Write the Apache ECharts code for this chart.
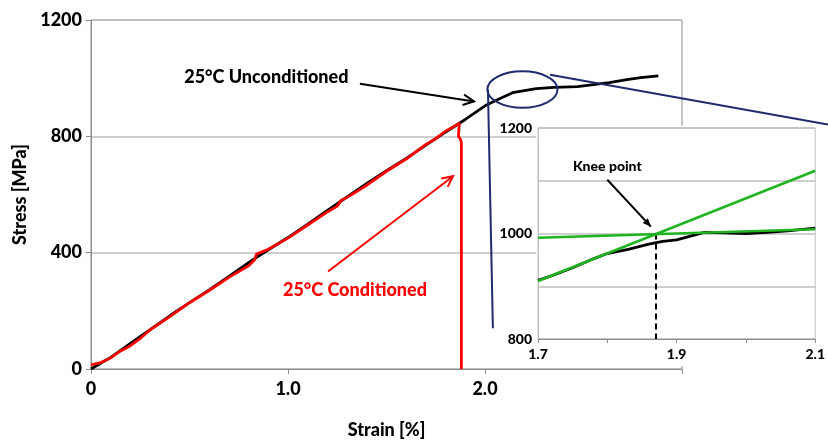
<!DOCTYPE html>
<html>
<head>
<meta charset="utf-8">
<title>Stress vs strain</title>
<script src="https://cdn.jsdelivr.net/npm/echarts@6/dist/echarts.min.js"></script>
<style>
  html, body { margin: 0; padding: 0; background: #fff; }
  #chart { width: 828px; height: 444px; }
</style>
</head>
<body>
<div id="chart"></div>
<script>
// 25°C unconditioned (black)
const strainUncond = [0, 0.1, 0.2, 0.3, 0.4, 0.5, 0.6, 0.7, 0.8, 0.9, 1.0, 1.1, 1.2, 1.3, 1.4, 1.5, 1.6, 1.7, 1.8, 1.9, 2.0, 2.06, 2.14, 2.26, 2.35, 2.47, 2.55, 2.63, 2.72, 2.79, 2.88]
const stressUncond = [0, 40, 88, 135, 183, 228, 272, 318, 366, 410, 452, 498, 545, 592, 638, 682, 724, 770, 815, 858, 905, 925, 950, 964, 968, 971, 978, 985, 995, 1002, 1008]

// 25°C conditioned (red) - fails near 1.88 %
const strainCond = [0, 0.05, 0.1, 0.15, 0.2, 0.25, 0.3, 0.4, 0.5, 0.6, 0.7, 0.8, 0.83, 0.84, 0.9, 1.0, 1.1, 1.2, 1.25, 1.27, 1.3, 1.4, 1.5, 1.6, 1.7, 1.75, 1.8, 1.87, 1.865, 1.875, 1.88, 1.88]
const stressCond = [14, 22, 38, 62, 80, 105, 135, 180, 228, 270, 315, 355, 375, 395, 412, 450, 495, 540, 560, 580, 590, 632, 680, 722, 772, 792, 818, 845, 800, 790, 780, 0]

// inset (zoom on knee)
const strainInset = [1.7, 1.72, 1.75, 1.78, 1.8, 1.83, 1.86, 1.88, 1.9, 1.92, 1.94, 1.97, 2.0, 2.03, 2.06, 2.1]
const stressInset = [911, 920, 935, 952, 962, 970, 980, 985, 988, 995, 1002, 1001, 1000, 1002, 1005, 1010]
// tangent lines
const tangentElastic = [[1.7, 910], [2.1, 1119]]
const tangentPlastic = [[1.7, 992], [2.1, 1008]]
const kneeStrain = 1.87
const kneeStress = 1000

const mainXTicks = ['0', '1.0', '2.0', '']

const zip = (xs, ys) => xs.map((x, i) => [x, ys[i]])

const FONT = 'Lato'
const NAVY = '#1f2b6d'
const GREEN = '#1fb41f'

const chart = echarts.init(document.getElementById('chart'))

const option = {
  animation: false,
  textStyle: { fontFamily: FONT },
  grid: [
    { left: 91, top: 20, width: 591, height: 351, show: true, borderColor: '#8c8c8c', borderWidth: 1 },
    { left: 538, top: 128, width: 285, height: 211, show: true, backgroundColor: '#fff', borderColor: '#c0c0c0', borderWidth: 1, z: 10 }
  ],
  xAxis: [
    {
      gridIndex: 0, type: 'value', min: 0, max: 3, interval: 1,
      name: 'Strain [%]', nameLocation: 'middle', nameGap: 52,
      nameTextStyle: { fontSize: 18, fontWeight: 900, color: '#000', fontFamily: FONT },
      axisLine: { lineStyle: { color: '#8c8c8c' } },
      axisTick: { show: true, length: 5, lineStyle: { color: '#8c8c8c' } },
      axisLabel: { fontSize: 18, fontWeight: 900, color: '#000', margin: 11, formatter: v => mainXTicks[Math.round(v)] },
      splitLine: { show: false }
    },
    {
      gridIndex: 1, type: 'value', min: 1.7, max: 2.1, interval: 0.1, z: 11,
      axisLine: { lineStyle: { color: '#8c8c8c' } },
      axisTick: { show: true, length: 4, lineStyle: { color: '#8c8c8c' } },
      axisLabel: { fontSize: 14, fontWeight: 900, color: '#000', margin: 8,
        formatter: v => (Math.round(v * 10) % 2 === 1 ? v.toFixed(1) : '') },
      splitLine: { show: false }
    }
  ],
  yAxis: [
    {
      gridIndex: 0, type: 'value', min: 0, max: 1200, interval: 400,
      name: 'Stress [MPa]', nameLocation: 'middle', nameGap: 39,
      nameTextStyle: { fontSize: 18, fontWeight: 900, color: '#000', fontFamily: FONT },
      axisLine: { show: true, lineStyle: { color: '#8c8c8c' } },
      axisTick: { show: true, length: 5, lineStyle: { color: '#8c8c8c' } },
      axisLabel: { fontSize: 18, fontWeight: 900, color: '#000', margin: 9, formatter: v => String(v) },
      splitLine: { lineStyle: { color: '#bfbfbf', width: 1.5 } }
    },
    {
      gridIndex: 1, type: 'value', min: 800, max: 1200, interval: 100, z: 11,
      axisLine: { show: true, lineStyle: { color: '#c0c0c0' } },
      axisTick: { show: false },
      axisLabel: { fontSize: 14, fontWeight: 900, color: '#000', margin: 6,
        formatter: v => (Math.round(v) % 200 === 0 ? String(v) : '') },
      splitLine: { lineStyle: { color: '#bfbfbf', width: 1.5 } }
    }
  ],
  series: [
    {
      name: '25°C Unconditioned', type: 'line', xAxisIndex: 0, yAxisIndex: 0,
      data: zip(strainUncond, stressUncond), showSymbol: false, z: 3,
      lineStyle: { color: '#000', width: 2.8 }
    },
    {
      name: '25°C Conditioned', type: 'line', xAxisIndex: 0, yAxisIndex: 0,
      data: zip(strainCond, stressCond), showSymbol: false, z: 4,
      lineStyle: { color: '#ff0000', width: 2.8 }
    },
    {
      name: 'inset', type: 'line', xAxisIndex: 1, yAxisIndex: 1,
      data: zip(strainInset, stressInset), showSymbol: false, z: 12,
      lineStyle: { color: '#000', width: 2.8 },
      markLine: {
        silent: true, symbol: 'none', z: 12,
        lineStyle: { color: '#000', width: 2, type: [6, 4] },
        label: { show: false },
        data: [[{ coord: [kneeStrain, kneeStress] }, { coord: [kneeStrain, 800] }]]
      }
    },
    {
      name: 'tangent1', type: 'line', xAxisIndex: 1, yAxisIndex: 1,
      data: tangentElastic, showSymbol: false, z: 13,
      lineStyle: { color: GREEN, width: 2.5 }
    },
    {
      name: 'tangent2', type: 'line', xAxisIndex: 1, yAxisIndex: 1,
      data: tangentPlastic, showSymbol: false, z: 13,
      lineStyle: { color: GREEN, width: 2.5 }
    }
  ]
}
chart.setOption(option)

// annotations, positioned from data coordinates
const toPx = (g, p) => chart.convertToPixel({ gridIndex: g }, p)

function arrow (g, from, to, color, width, filled) {
  const a = toPx(g, from)
  const b = toPx(g, to)
  const ang = Math.atan2(b[1] - a[1], b[0] - a[0])
  const len = filled ? 9 : 12
  const spread = filled ? 0.4 : 0.45
  const h1 = [b[0] - len * Math.cos(ang - spread), b[1] - len * Math.sin(ang - spread)]
  const h2 = [b[0] - len * Math.cos(ang + spread), b[1] - len * Math.sin(ang + spread)]
  const els = [{
    type: 'line', z: 100,
    shape: { x1: a[0], y1: a[1], x2: b[0], y2: b[1] },
    style: { stroke: color, lineWidth: width }
  }]
  if (filled) {
    els.push({ type: 'polygon', z: 100, shape: { points: [b, h1, h2] }, style: { fill: color } })
  } else {
    els.push({ type: 'polyline', z: 100, shape: { points: [h1, b, h2] }, style: { stroke: color, lineWidth: width, fill: 'none' } })
  }
  return els
}

function label (g, p, text, color, size) {
  const c = toPx(g, p)
  return {
    type: 'text', z: 100, x: c[0], y: c[1],
    style: { text: text, fill: color, font: '900 ' + size + 'px ' + FONT, align: 'center', verticalAlign: 'middle' }
  }
}

// zoom ellipse on the main curve and connector lines
const ec = toPx(0, [2.19, 961])
const er = toPx(0, [2.19 + 0.178, 961 + 63])
const c1a = toPx(0, [2.015, 961])
const c1b = toPx(0, [2.04, 140])
const c2a = toPx(0, [2.33, 1012])
const c2b = toPx(0, [3.741, 841])
// white backing under the inset, hides the main frame there
const wTop = toPx(0, [2.26, 836])
const wBot = toPx(0, [3.75, 10])

const graphic = [
  { type: 'rect', z: 5, shape: { x: wTop[0], y: wTop[1], width: wBot[0] - wTop[0], height: wBot[1] - wTop[1] }, style: { fill: '#fff' } },
  { type: 'ellipse', z: 90, shape: { cx: ec[0], cy: ec[1], rx: er[0] - ec[0], ry: ec[1] - er[1] }, style: { fill: 'none', stroke: NAVY, lineWidth: 2 } },
  { type: 'line', z: 90, shape: { x1: c1a[0], y1: c1a[1], x2: c1b[0], y2: c1b[1] }, style: { stroke: NAVY, lineWidth: 2 } },
  { type: 'line', z: 90, shape: { x1: c2a[0], y1: c2a[1], x2: c2b[0], y2: c2b[1] }, style: { stroke: NAVY, lineWidth: 2 } },
  label(0, [0.89, 1002], '25°C Unconditioned', '#000', 18),
  label(0, [1.34, 270], '25°C Conditioned', '#ff0000', 18),
  label(1, [1.80, 1127], 'Knee point', '#000', 14)
]
  .concat(arrow(0, [1.365, 981], [1.944, 920], '#000', 2, false))
  .concat(arrow(0, [1.203, 335], [1.838, 663], '#ff0000', 2, false))
  .concat(arrow(1, [1.80, 1102], [1.863, 1013], '#000', 2, true))

chart.setOption({ graphic: graphic })
</script>
</body>
</html>
